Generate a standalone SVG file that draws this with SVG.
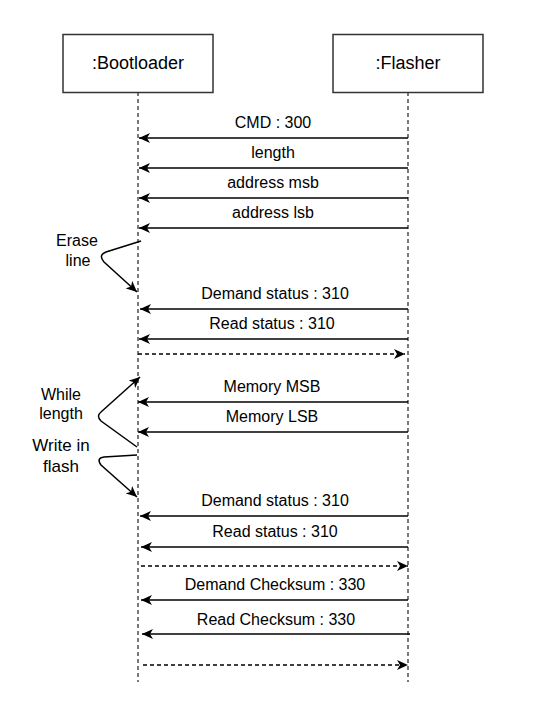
<svg xmlns="http://www.w3.org/2000/svg" width="541" height="705" viewBox="0 0 541 705">
<style>
.box{fill:#fff;stroke:#333;stroke-width:1.5}
.life{stroke:#222;stroke-width:1.2;stroke-dasharray:4 3;fill:none}
.msg{stroke:#000;stroke-width:1.5;fill:none}
.dash{stroke:#000;stroke-width:1.3;stroke-dasharray:4 3;fill:none}
.self{stroke:#000;stroke-width:1.5;fill:none}
text{font-family:"Liberation Sans",Arial,sans-serif;font-size:16px;fill:#000;text-anchor:middle}
.big{font-size:17px}
.head{font-size:18px}
</style>
<defs>
<marker id="arr" viewBox="0 0 11 10" refX="11" refY="5" markerWidth="11" markerHeight="10" markerUnits="userSpaceOnUse" orient="auto">
<path d="M0,0 L11,5 L0,10 L3,5 Z" fill="#000"/>
</marker>
</defs>
<rect width="541" height="705" fill="#fff"/>
<g id="bootloader">
<line class="life" x1="138" y1="92" x2="138" y2="682"/>
<rect class="box" x="63" y="34.5" width="150" height="58"/>
<text class="head" x="138" y="68.5">:Bootloader</text>
</g>
<g id="flasher">
<line class="life" x1="408" y1="92" x2="408" y2="682"/>
<rect class="box" x="333" y="34.5" width="150" height="58"/>
<text class="head" x="408" y="68.5">:Flasher</text>
</g>
<g id="connectors">
<line class="msg" x1="408" y1="138" x2="139" y2="138" marker-end="url(#arr)"/>
<line class="msg" x1="408" y1="168" x2="139" y2="168" marker-end="url(#arr)"/>
<line class="msg" x1="408" y1="198" x2="139" y2="198" marker-end="url(#arr)"/>
<line class="msg" x1="408" y1="228" x2="139" y2="228" marker-end="url(#arr)"/>
<line class="msg" x1="408" y1="309" x2="140" y2="309" marker-end="url(#arr)"/>
<line class="msg" x1="408" y1="339" x2="139" y2="339" marker-end="url(#arr)"/>
<line class="dash" x1="138" y1="354" x2="405" y2="354" marker-end="url(#arr)"/>
<line class="msg" x1="408" y1="402" x2="138" y2="402" marker-end="url(#arr)"/>
<line class="msg" x1="408" y1="432" x2="138" y2="432" marker-end="url(#arr)"/>
<line class="msg" x1="408" y1="516" x2="140" y2="516" marker-end="url(#arr)"/>
<line class="msg" x1="408" y1="547" x2="141" y2="547" marker-end="url(#arr)"/>
<line class="dash" x1="141" y1="566" x2="408" y2="566" marker-end="url(#arr)"/>
<line class="msg" x1="408" y1="600" x2="141" y2="600" marker-end="url(#arr)"/>
<line class="msg" x1="410" y1="634" x2="142" y2="634" marker-end="url(#arr)"/>
<line class="dash" x1="143" y1="665" x2="408" y2="665" marker-end="url(#arr)"/>
<path class="self" d="M141,241 L106,252 Q98,255 104,262 L137,292" marker-end="url(#arr)"/>
<path class="self" d="M137,447 L101,421 Q96,416 101,412 L140,377" marker-end="url(#arr)"/>
<path class="self" d="M137,455 L104,457 Q96,458 101,465 L137,497" marker-end="url(#arr)"/>
</g>
<g id="labels">
<text x="273" y="128">CMD : 300</text>
<text x="273" y="158">length</text>
<text x="273" y="188">address msb</text>
<text x="273" y="218">address lsb</text>
<text x="275" y="299">Demand status : 310</text>
<text x="272" y="329">Read status : 310</text>
<text x="272" y="392">Memory MSB</text>
<text x="272" y="422">Memory LSB</text>
<text x="275" y="506">Demand status : 310</text>
<text x="275" y="537">Read status : 310</text>
<text x="275" y="590">Demand Checksum : 330</text>
<text x="276" y="625">Read Checksum : 330</text>
<text x="77" y="246">Erase</text>
<text x="78" y="266">line</text>
<text x="61" y="400">While</text>
<text x="61" y="419">length</text>
<text class="big" x="61" y="451">Write in</text>
<text class="big" x="61" y="472">flash</text>
</g>
</svg>
